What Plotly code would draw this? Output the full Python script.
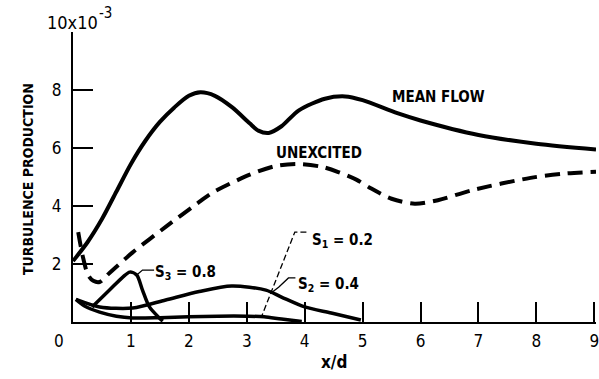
import plotly.graph_objects as go

# ---- data ----
mean_x = [0.0, 0.25, 0.5, 0.75, 1.0, 1.25, 1.5, 1.75, 2.0, 2.2, 2.45, 2.75, 3.05, 3.2, 3.38, 3.6, 3.9, 4.35, 4.7, 5.0, 5.6, 6.0, 7.0, 8.0, 9.03]
mean_y = [2.1, 2.75, 3.55, 4.5, 5.45, 6.25, 6.9, 7.4, 7.8, 7.92, 7.8, 7.4, 6.85, 6.6, 6.52, 6.75, 7.3, 7.7, 7.78, 7.65, 7.2, 6.95, 6.45, 6.15, 5.95]

unex_x = [0.09, 0.17, 0.26, 0.35, 0.46, 0.63, 1.03, 1.6, 2.18, 2.4, 3.04, 3.5, 3.9, 4.3, 4.58, 4.9, 5.15, 5.5, 5.9, 6.3, 6.9, 7.9, 8.5, 9.03]
unex_y = [3.1, 2.25, 1.62, 1.42, 1.38, 1.69, 2.4, 3.28, 4.14, 4.45, 5.07, 5.38, 5.45, 5.35, 5.17, 4.9, 4.6, 4.25, 4.08, 4.2, 4.55, 4.97, 5.12, 5.18]

s3_x = [0.33, 0.63, 0.86, 0.98, 1.1, 1.2, 1.32, 1.49, 1.55]
s3_y = [0.52, 1.1, 1.55, 1.72, 1.62, 1.1, 0.52, 0.14, 0.03]

s2_x = [0.05, 0.46, 1.03, 1.6, 2.18, 2.74, 3.33, 3.6, 4.0, 4.46, 4.97]
s2_y = [0.78, 0.52, 0.48, 0.76, 1.05, 1.24, 1.1, 0.86, 0.52, 0.31, 0.07]

s1_x = [0.05, 0.2, 0.46, 0.75, 1.03, 1.5, 2.0, 2.5, 3.0, 3.3, 3.6, 3.95]
s1_y = [0.78, 0.55, 0.34, 0.2, 0.14, 0.15, 0.18, 0.2, 0.2, 0.18, 0.1, 0.02]

x_ticks = [1, 2, 3, 4, 5, 6, 7, 8, 9]
y_ticks = [2, 4, 6, 8, 10]
y_ticktext = ["2", "4", "6", "8", ""]

# leader lines (annotation callouts)
lead_s1 = [(4.03, 3.1), (3.83, 3.1), (3.26, 0.21)]
lead_s2 = [(3.84, 1.52), (3.72, 1.52), (3.55, 1.2), (3.42, 1.0)]
lead_s3 = [(1.4, 1.79), (1.2, 1.79), (1.1, 1.62)]

FONT = "DejaVu Sans Condensed"
BLACK = "#000000"

fig = go.Figure()
solid = dict(color=BLACK, width=4, shape="spline", smoothing=0.8)
fig.add_trace(go.Scatter(x=mean_x, y=mean_y, mode="lines", line=solid, hoverinfo="skip"))
fig.add_trace(go.Scatter(x=unex_x, y=unex_y, mode="lines",
                         line=dict(color=BLACK, width=4, dash="15px,8px", shape="spline", smoothing=0.8),
                         hoverinfo="skip"))
fig.add_trace(go.Scatter(x=s3_x, y=s3_y, mode="lines", line=dict(color=BLACK, width=3.5, shape="spline", smoothing=0.8), hoverinfo="skip"))
fig.add_trace(go.Scatter(x=s2_x, y=s2_y, mode="lines", line=dict(color=BLACK, width=3.5, shape="spline", smoothing=0.8), hoverinfo="skip"))
fig.add_trace(go.Scatter(x=s1_x, y=s1_y, mode="lines", line=dict(color=BLACK, width=3.5, shape="spline", smoothing=0.8), hoverinfo="skip"))

def path_of(pts):
    return "M " + " L ".join(f"{x},{y}" for x, y in pts)

fig.add_shape(type="path", path=path_of(lead_s1), xref="x", yref="y",
              line=dict(color=BLACK, width=1.3, dash="6px,3px"))
fig.add_shape(type="path", path=path_of(lead_s2), xref="x", yref="y",
              line=dict(color=BLACK, width=1.3))
fig.add_shape(type="path", path=path_of(lead_s3), xref="x", yref="y",
              line=dict(color=BLACK, width=1.3))

lab = dict(family=FONT, size=15, color=BLACK, weight="bold")
slab = dict(family=FONT, size=15, color=BLACK, weight="bold")
ann = [
    dict(text="MEAN FLOW", x=(441 - 73) / 58.3, y=(322 - 97) / 29, f=lab, xa="center"),
    dict(text="UNEXCITED", x=(321 - 73) / 58.3, y=(322 - 153) / 29, f=lab, xa="center"),
    dict(text="S<sub>1</sub> = 0.2", x=(312 - 73) / 58.3, y=(322 - 240) / 29, f=slab, xa="left"),
    dict(text="S<sub>2</sub> = 0.4", x=(297 - 73) / 58.3, y=(322 - 284) / 29, f=slab, xa="left"),
    dict(text="S<sub>3</sub> = 0.8", x=(154 - 73) / 58.3, y=(322 - 272) / 29, f=slab, xa="left"),
]
for a in ann:
    fig.add_annotation(text=a["text"], x=a["x"], y=a["y"], xref="x", yref="y",
                       showarrow=False, font=a["f"], xanchor=a["xa"], yanchor="middle")

fig.add_annotation(text="TURBULENCE PRODUCTION", xref="paper", x=0, xshift=-55,
                   yref="y", y=(322 - 179) / 29, textangle=-90, showarrow=False,
                   font=dict(family=FONT, size=14, color=BLACK, weight="bold"))
fig.add_annotation(text="x/d", xref="x", x=(336 - 73) / 58.3, yref="paper", y=0, yshift=-40,
                   yanchor="middle", showarrow=False,
                   font=dict(family=FONT, size=17, color=BLACK, weight="bold"))
fig.add_annotation(text="0", xref="x", x=0, xshift=-14, yref="paper", y=0, yshift=-19,
                   yanchor="middle", showarrow=False,
                   font=dict(family=FONT, size=17, color=BLACK))
fig.add_annotation(text="10x10", xref="x", x=0, xshift=-28, xanchor="left",
                   yref="y", y=10, yshift=10, yanchor="middle",
                   showarrow=False, font=dict(family=FONT, size=18, color=BLACK))
fig.add_annotation(text="-3", xref="x", x=0, xshift=24, xanchor="left",
                   yref="y", y=10, yshift=19, yanchor="middle",
                   showarrow=False, font=dict(family=FONT, size=15, color=BLACK))

fig.update_xaxes(range=[0, 9.03], showgrid=False, zeroline=False, showline=True,
                 linecolor=BLACK, linewidth=2, ticks="inside", ticklen=20, tickwidth=2,
                 tickcolor=BLACK, tickvals=x_ticks, ticklabelstandoff=3,
                 ticklabeloverflow="allow",
                 tickfont=dict(family=FONT, size=17, color=BLACK))
fig.update_yaxes(range=[0, 10], showgrid=False, zeroline=False, showline=True,
                 linecolor=BLACK, linewidth=2, ticks="inside", ticklen=20, tickwidth=2,
                 tickcolor=BLACK, tickvals=y_ticks, ticktext=y_ticktext, ticklabelstandoff=6,
                 tickfont=dict(family=FONT, size=17, color=BLACK))

fig.update_layout(width=599, height=379, margin=dict(l=73, r=0, t=32, b=57),
                  paper_bgcolor="white", plot_bgcolor="white", showlegend=False)

fig.write_html("out.html")
